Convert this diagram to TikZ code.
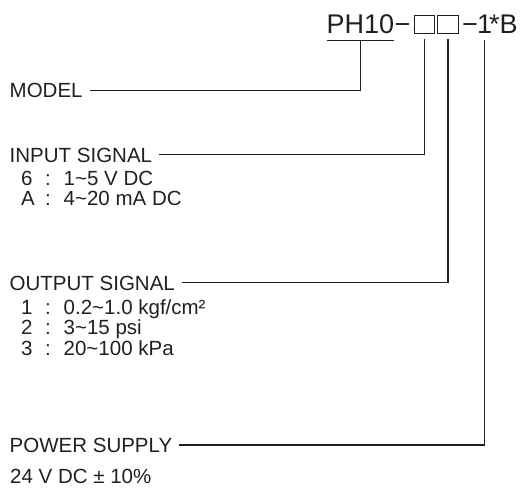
\documentclass[tikz,border=0pt]{standalone}
\usepackage{fontspec}
\setmainfont{Liberation Sans}
\usetikzlibrary{positioning}
\definecolor{ink}{HTML}{231F20}
\newcommand{\optrow}[2]{\makebox[24pt][l]{#1}\makebox[18.5pt][l]{:}#2}

\begin{document}
\begin{tikzpicture}[x=1pt, y=-1pt,
            every node/.append style={text=ink},
            title/.style={font=\fontsize{27}{31}\selectfont, anchor=base west, inner xsep=0pt, inner ysep=7pt},
            code/.style={draw=ink, line width=1pt, minimum width=20.5pt, minimum height=18pt, inner sep=0pt, outer ysep=6pt},
            head/.style={font=\fontsize{20.5}{24}\selectfont, anchor=base west, inner xsep=7pt, inner ysep=0pt},
            item/.style={font=\fontsize{20.5}{24}\selectfont, anchor=base west, inner sep=0pt},
            link/.style={draw=ink, line width=1.1pt}]
        \useasboundingbox (0,0) rectangle (520,491);

        % model code
        \node (ph) [title] at (326.5,33) {PH10};
        \node (dasha) [title] at (394.5,33) {−};
        \node (boxa) [code] at (424.5,24) {};
        \node (boxb) [code] at (448,24) {};
        \node (dashb) [title] at (462,33) {−};
        \node (one) [title] at (477,33) {1};
        \node (tail) [title] at (489,33) {*B};

        % fields
        \node (model) [head] at (2.5,97.5) {MODEL};
        \node (insig) [head] at (2.5,162) {INPUT SIGNAL};
        \node (in6) [item] at (21,185) {\optrow{6}{1\textasciitilde5 V DC}};
        \node (inA) [item] at (21,205.5) {\optrow{A}{4\textasciitilde20 mA DC}};
        \node (outsig) [head] at (2.5,290) {OUTPUT SIGNAL};
        \node (out1) [item] at (21,314) {\optrow{1}{0.2\textasciitilde1.0 kgf/cm²}};
        \node (out2) [item] at (21,334.5) {\optrow{2}{3\textasciitilde15 psi}};
        \node (out3) [item] at (21,355) {\optrow{3}{20\textasciitilde100 kPa}};
        \node (power) [head] at (2.5,452) {POWER SUPPLY};
        \node (supply) [item] at (10,483) {24 V DC ± 10\%};

        \path[link] (ph.south west) -- (ph.south east);
        \path[link] (ph.south) |- (model.east)
                    (boxa.south) |- (insig.east)
                    (boxb.south) |- (outsig.east)
                    (one.south) |- (power.east);
\end{tikzpicture}
\end{document}
